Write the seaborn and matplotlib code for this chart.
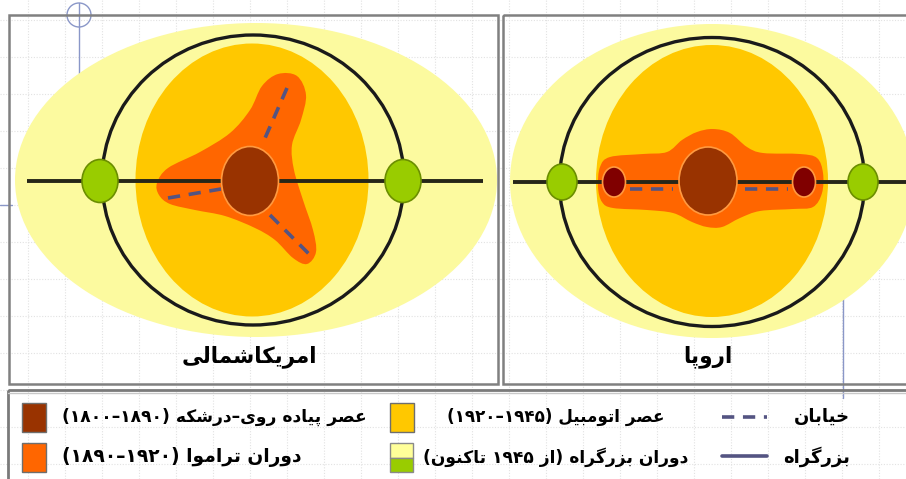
import re
import numpy as np
import seaborn as sns
import matplotlib.pyplot as plt
from matplotlib.patches import Ellipse, Rectangle, PathPatch
from matplotlib.path import Path

# ---- content (logical Persian text) ----
panel_titles = ["امریکاشمالی", "اروپا"]
legend_labels = [
    "عصر پیاده روی–درشکه (۱۸۹۰–۱۸۰۰)",
    "دوران تراموا (۱۹۲۰–۱۸۹۰)",
    "عصر اتومبیل (۱۹۴۵–۱۹۲۰)",
    "دوران بزرگراه (از ۱۹۴۵ تاکنون)",
    "خیابان",
    "بزرگراه",
]

# ---- colours ----
c_pale = "#FCFA9F"
c_gold = "#FFC800"
c_orange = "#FF6600"
c_brown = "#993300"
c_darkred = "#800000"
c_green = "#99CC00"
c_street = "#545482"
c_highway = "#262618"

# ---- geometry of the two sketches (pixel space) ----
# centre x, centre y, width, height
pale_zone = [(256, 180, 482, 314), (712, 181, 404, 314)]
ring_road = [(253, 180, 302, 290), (712, 182, 305, 289)]
auto_zone = [(252, 180, 233, 273), (712, 181, 232, 272)]
core = [(250, 181, 57, 69), (708, 181, 58, 68)]
sub_cores = [(614, 182, 23, 30), (804, 182, 23, 30)]
junctions = [(100, 181, 36, 43), (403, 181, 36, 43), (562, 182, 30, 36), (863, 182, 30, 36)]
highway_x = [(27, 483), (513, 910)]
highway_y = [181, 182]

tram_na = [(157, 183), (168, 168), (200, 152), (230, 133), (250, 110), (262, 86),
           (278, 74), (297, 76), (306, 95), (301, 120), (292, 145), (294, 170),
           (303, 200), (313, 230), (316, 252), (307, 264), (293, 258), (275, 240),
           (255, 228), (225, 216), (195, 210), (170, 204), (159, 195)]
tram_eu = [(600, 167), (610, 157), (643, 154), (667, 152), (682, 140), (697, 132),
           (713, 129), (730, 133), (747, 147), (763, 153), (800, 154), (817, 158),
           (823, 173), (822, 193), (813, 207), (793, 209), (760, 211), (740, 218),
           (722, 227), (707, 227), (692, 222), (673, 213), (647, 210), (613, 208),
           (602, 202), (598, 187)]

streets = [[(287, 88), (262, 145)], [(168, 198), (221, 189)], [(270, 215), (311, 256)],
           [(630, 189), (673, 189)], [(745, 189), (788, 189)]]

panel_boxes = [(9, 15, 489, 369), (503, 15, 420, 369)]

# text anchors: x, y, alignment, wanted width in px, smallest font size
title_pos = [(249, 357, "center", 100, 15.5), (708, 357, "center", 48, 15.5)]
label_pos = [(62, 417, "left", 306, 12), (62, 457, "left", 240, 12),
             (556, 417, "center", 218, 12), (556, 457, "center", 266, 12),
             (850, 417, "right", 43, 13), (850, 457, "right", 43, 13)]

# ---- Persian shaping (isolated, final, initial, medial) ----
FORMS = {
    'ا': ('\ufe8d', '\ufe8e', None, None), 'ب': ('\ufe8f', '\ufe90', '\ufe91', '\ufe92'),
    'پ': ('\ufb56', '\ufb57', '\ufb58', '\ufb59'), 'ت': ('\ufe95', '\ufe96', '\ufe97', '\ufe98'),
    'خ': ('\ufea5', '\ufea6', '\ufea7', '\ufea8'), 'د': ('\ufea9', '\ufeaa', None, None),
    'ر': ('\ufead', '\ufeae', None, None), 'ز': ('\ufeaf', '\ufeb0', None, None),
    'ش': ('\ufeb5', '\ufeb6', '\ufeb7', '\ufeb8'), 'ص': ('\ufeb9', '\ufeba', '\ufebb', '\ufebc'),
    'ع': ('\ufec9', '\ufeca', '\ufecb', '\ufecc'), 'ک': ('\ufb8e', '\ufb8f', '\ufb90', '\ufb91'),
    'گ': ('\ufb92', '\ufb93', '\ufb94', '\ufb95'), 'ل': ('\ufedd', '\ufede', '\ufedf', '\ufee0'),
    'م': ('\ufee1', '\ufee2', '\ufee3', '\ufee4'), 'ن': ('\ufee5', '\ufee6', '\ufee7', '\ufee8'),
    'و': ('\ufeed', '\ufeee', None, None), 'ه': ('\ufee9', '\ufeea', '\ufeeb', '\ufeec'),
    'ی': ('\ufbfc', '\ufbfd', '\ufbfe', '\ufbff'),
}


def fa(text):
    text = text.replace('ي', 'ی').replace('ى', 'ی').replace('ك', 'ک')
    out = []
    for i, ch in enumerate(text):
        if ch not in FORMS:
            out.append(ch)
            continue
        prev = text[i - 1] if i > 0 else ''
        nxt = text[i + 1] if i + 1 < len(text) else ''
        jp = prev in FORMS and FORMS[prev][2] is not None
        jn = nxt in FORMS and FORMS[ch][2] is not None
        iso, fin, ini, med = FORMS[ch]
        out.append(med if jp and jn else fin if jp else ini if jn else iso)
    vis = ''.join(out)[::-1]
    vis = re.sub(r'[0-9\u06f0-\u06f9]+', lambda m: m.group(0)[::-1], vis)
    return vis.translate(str.maketrans('()', ')('))


def smooth_closed(pts):
    # closed Catmull-Rom outline handed to matplotlib as cubic Bezier segments
    p = np.array(pts, float)
    n = len(p)
    verts = [p[0]]
    codes = [Path.MOVETO]
    for i in range(n):
        p0, p1, p2, p3 = p[i - 1], p[i], p[(i + 1) % n], p[(i + 2) % n]
        verts += [p1 + (p2 - p0) / 6, p2 - (p3 - p1) / 6, p2]
        codes += [Path.CURVE4] * 3
    return Path(verts, codes)


sns.set_theme(style="whitegrid", rc={"grid.color": "#e2e2e2", "grid.linestyle": (0, (1, 1.5)),
                                     "grid.linewidth": 0.8})
plt.rcParams['font.family'] = ['DejaVu Sans']

fig = plt.figure(figsize=(9.06, 4.79), dpi=100)
ax = fig.add_axes([0, 0, 1, 1])
ax.set_xlim(0, 906)
ax.set_ylim(479, 0)
ax.set_xticks(np.arange(28, 906, 37))
ax.set_yticks(np.arange(20, 479, 37))
ax.set_xticklabels([])
ax.set_yticklabels([])
ax.tick_params(length=0)
ax.set_axisbelow(True)
for s in ax.spines.values():
    s.set_visible(False)

# slide guide marks
ax.add_patch(Ellipse((79, 15), 24, 24, fill=False, ec="#8a97c8", lw=1, zorder=1))
ax.plot([79, 79], [3, 75], color="#8a97c8", lw=1, zorder=1)
ax.plot([0, 12], [205, 205], color="#8a97c8", lw=1, zorder=1)
ax.plot([880, 906], [205, 205], color="#8a97c8", lw=1, zorder=1)
ax.plot([843, 843], [295, 398], color="#8a97c8", lw=1, zorder=1)

for k in range(2):
    bx, by, bw, bh = panel_boxes[k]
    frame = Rectangle((bx, by), bw, bh, fill=False, ec="#808080", lw=1.8, zorder=10)
    ax.add_patch(frame)
    clip = Rectangle((bx, by), bw, bh, transform=ax.transData)

    cx, cy, w, h = pale_zone[k]
    e = Ellipse((cx, cy), w, h, fc=c_pale, ec="none", zorder=2)
    ax.add_patch(e)
    e.set_clip_path(clip)

    cx, cy, w, h = auto_zone[k]
    ax.add_patch(Ellipse((cx, cy), w, h, fc=c_gold, ec="none", zorder=3))

    cx, cy, w, h = ring_road[k]
    ax.add_patch(Ellipse((cx, cy), w, h, fill=False, ec="#1a1a1a", lw=2.4, zorder=4))

    tram = tram_na if k == 0 else tram_eu
    ax.add_patch(PathPatch(smooth_closed(tram), fc=c_orange, ec="none", zorder=5))

    hl = ax.plot(highway_x[k], [highway_y[k]] * 2, color=c_highway, lw=2.8,
                 solid_capstyle="butt", zorder=6)
    hl[0].set_clip_path(clip)

    cx, cy, w, h = core[k]
    ax.add_patch(Ellipse((cx, cy), w, h, fc=c_brown, ec="#FF9a40", lw=1.2, zorder=8))

for cx, cy, w, h in sub_cores:
    ax.add_patch(Ellipse((cx, cy), w, h, fc=c_darkred, ec="#FF9a40", lw=1.2, zorder=8))

for cx, cy, w, h in junctions:
    ax.add_patch(Ellipse((cx, cy), w, h, fc=c_green, ec="#6b8e00", lw=1.2, zorder=8))

for (x0, y0), (x1, y1) in streets:
    ax.plot([x0, x1], [y0, y1], color=c_street, lw=2.6, dashes=(3.4, 2.4),
            dash_capstyle="butt", zorder=7)

# ---- legend box ----
ax.add_patch(Rectangle((8, 390), 910, 100, fill=False, ec="#7a7a7a", lw=2, zorder=10))
ax.plot([8, 906], [393, 393], color="#c8c8c8", lw=1, zorder=10)

swatch_fc = [c_brown, c_orange, c_gold]
swatch_xy = [(22, 403), (22, 443), (390, 403)]
for fc, (sx, sy) in zip(swatch_fc, swatch_xy):
    ax.add_patch(Rectangle((sx, sy), 24, 29, fc=fc, ec="#6e6e6e", lw=1, zorder=11))
ax.add_patch(Rectangle((390, 443), 23, 14.5, fc="#FFFF99", ec="#8a8a8a", lw=1, zorder=11))
ax.add_patch(Rectangle((390, 457.5), 23, 14.5, fc=c_green, ec="#8a8a8a", lw=1, zorder=11))

ax.plot([722, 767], [417, 417], color=c_street, lw=2.6, dashes=(3.4, 2.4),
        dash_capstyle="butt", zorder=11)
ax.plot([722, 767], [456, 456], color=c_street, lw=2.6, zorder=11)

texts = []
for lab, (lx, ly, ha, wid, fmin) in zip(panel_titles + legend_labels, title_pos + label_pos):
    t = ax.text(lx, ly, fa(lab), ha=ha, va="center", fontsize=14, fontweight="bold",
                color="black", zorder=11)
    texts.append((t, wid, fmin))

# scale each label towards the width it has in the sketch
fig.canvas.draw()
rend = fig.canvas.get_renderer()
for t, wid, fmin in texts:
    cur = t.get_window_extent(rend).width
    t.set_fontsize(max(14 * wid / cur, fmin))

fig.savefig("out.png", dpi=100)
